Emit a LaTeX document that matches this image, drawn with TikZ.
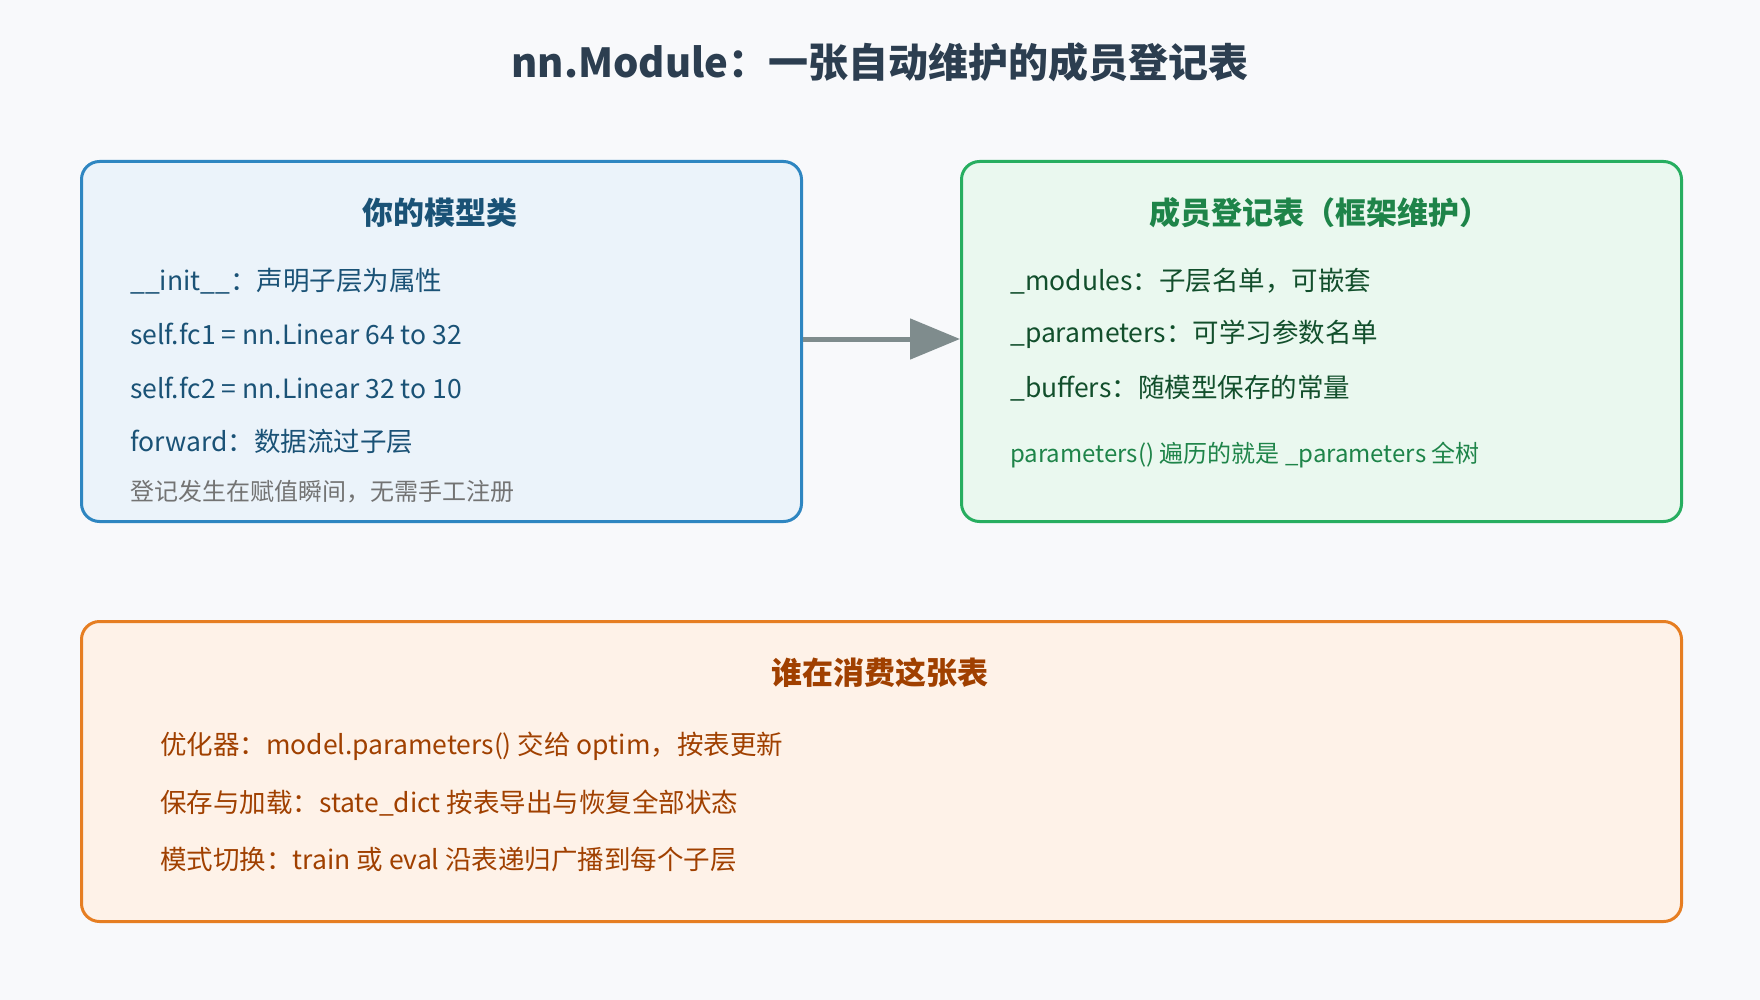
\documentclass[tikz,border=0pt]{standalone}
\usepackage{fontspec}
\setmainfont{Noto Sans CJK SC}
\usetikzlibrary{arrows.meta}
\definecolor{bgc}{HTML}{F8F9FB}
\definecolor{titlec}{HTML}{2C3E50}
\definecolor{blueline}{HTML}{2E86C1}
\definecolor{bluefill}{HTML}{EBF3FA}
\definecolor{bluetext}{HTML}{1A5276}
\definecolor{greenline}{HTML}{27AE60}
\definecolor{greenfill}{HTML}{EAF8EF}
\definecolor{greentext}{HTML}{1E8449}
\definecolor{orangeline}{HTML}{E67E22}
\definecolor{orangefill}{HTML}{FEF2E8}
\definecolor{orangetext}{HTML}{A04000}
\definecolor{arrowc}{HTML}{7F8C8D}
\tikzset{
  box/.style={draw, line width=3pt, rounded corners=18pt, anchor=north west, inner sep=0pt},
  head/.style={font=\fontsize{31}{35}\selectfont\bfseries},
  item/.style={anchor=west, inner sep=0pt, font=\fontsize{26.5}{30}\selectfont},
  note/.style={anchor=west, inner sep=0pt, font=\fontsize{24}{28}\selectfont},
}
\begin{document}
\begin{tikzpicture}[x=1pt,y=-1pt]
  \fill[bgc] (0,0) rectangle (1760,1000);
  \useasboundingbox (0,0) rectangle (1760,1000);
  % title
  \node[font=\fontsize{40}{44}\selectfont\bfseries, text=titlec] (title) at (880,62) {nn.Module：一张自动维护的成员登记表};

  % boxes
  \node[box, draw=blueline, fill=bluefill, minimum width=720pt, minimum height=360pt] (model) at (80,160) {};
  \node[box, draw=greenline, fill=greenfill, minimum width=720pt, minimum height=360pt] (table) at (960,160) {};
  \node[box, draw=orangeline, fill=orangefill, minimum width=1600pt, minimum height=300pt] (users) at (80,620) {};

  % left box
  \node[head, text=bluetext] (mhead) at (440,213) {你的模型类};
  \node[item, text=bluetext] (m1) at (130,281) {\_\_init\_\_：声明子层为属性};
  \node[item, text=bluetext] (m2) at (130,334) {self.fc1 = nn.Linear 64 to 32};
  \node[item, text=bluetext] (m3) at (130,388) {self.fc2 = nn.Linear 32 to 10};
  \node[item, text=bluetext] (m4) at (130,442) {forward：数据流过子层};
  \node[note, text=gray!90!black] (m5) at (130,492) {登记发生在赋值瞬间，无需手工注册};

  % right box
  \node[head, text=greentext] (thead) at (1320,213) {成员登记表（框架维护）};
  \node[item, text=greentext!60!black] (t1) at (1010,281) {\_modules：子层名单，可嵌套};
  \node[item, text=greentext!60!black] (t2) at (1010,334) {\_parameters：可学习参数名单};
  \node[item, text=greentext!60!black] (t3) at (1010,388) {\_buffers：随模型保存的常量};
  \node[note, text=greentext] (t4) at (1010,455) {parameters() 遍历的就是 \_parameters 全树};

  % bottom box
  \node[head, text=orangetext] (uhead) at (880,673) {谁在消费这张表};
  \node[item, text=orangetext] (u1) at (160,746) {优化器：model.parameters() 交给 optim，按表更新};
  \node[item, text=orangetext] (u2) at (160,803) {保存与加载：state\_dict 按表导出与恢复全部状态};
  \node[item, text=orangetext] (u3) at (160,859) {模式切换：train 或 eval 沿表递归广播到每个子层};

  % arrow
  \draw[arrowc, line width=5pt, -{Triangle[length=50pt,width=40pt]}] (model.east |- 0,339) -- (table.west |- 0,339);
\end{tikzpicture}
\end{document}
